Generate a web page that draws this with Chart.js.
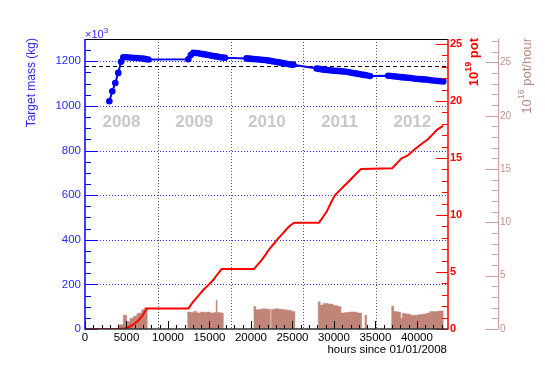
<!DOCTYPE html>
<html>
<head>
<meta charset="utf-8">
<script src="https://cdn.jsdelivr.net/npm/chart.js@4.4.1/dist/chart.umd.min.js"></script>
<style>
  html, body { margin: 0; padding: 0; background: #fff; }
</style>
</head>
<body>
<canvas id="chart" width="545" height="369"></canvas>
<script>
// ---------- data ----------
// target mass (x10^3 kg) vs hours since 01/01/2008
const massHours = [
  2930, 3290, 3650, 4010, 4340, 4620, 5000, 5400, 5800, 6200, 6600, 7000, 7300, 7630,
  12450, 12750, 13050, 13350, 13650, 13950, 14250, 14550, 14850, 15150, 15450, 15750, 16050, 16350, 16600, 16870,
  19480, 19780, 20080, 20380, 20680, 20980, 21280, 21580, 21880, 22180, 22480, 22780, 23080, 23380, 23680, 23980, 24280, 24580, 24850, 25100,
  27920, 28220, 28520, 28820, 29120, 29420, 29720, 30020, 30320, 30620, 30920, 31220, 31520, 31820, 32120, 32420, 32720, 33020, 33320, 33620, 33920, 34340,
  36550, 36850, 37150, 37450, 37750, 38050, 38350, 38650, 38950, 39250, 39550, 39850, 40150, 40450, 40750, 41050, 41350, 41650, 41950, 42250, 42550, 42850, 43180
];
const massValues = [
  1021, 1066, 1103, 1148, 1198, 1218, 1218, 1217, 1216, 1215, 1214, 1212, 1210, 1208,
  1209, 1228, 1238, 1237, 1236, 1234, 1232, 1230, 1228, 1226, 1224, 1222, 1220, 1218, 1217, 1216,
  1213, 1212, 1211, 1210, 1209, 1208, 1207, 1206, 1205, 1203, 1201, 1199, 1197, 1195, 1193, 1191, 1189, 1187, 1186, 1185,
  1168, 1166, 1164, 1162, 1161, 1160, 1159, 1158, 1157, 1156, 1155, 1154, 1153, 1151, 1149, 1147, 1145, 1143, 1141, 1139, 1137, 1134,
  1135, 1134, 1133, 1132, 1131, 1129, 1128, 1127, 1126, 1125, 1123, 1122, 1121, 1120, 1119, 1118, 1117, 1115, 1114, 1113, 1112, 1111, 1110
];

// accumulated protons on target (10^19 pot)
const potHours = [
  0, 4220, 4820, 5430, 6030, 6430, 6830, 7130, 7430,
  12450, 12750, 13050, 13650, 14250, 14860, 15460, 15960, 16470,
  20360, 20820, 21290, 21790, 22290, 22790, 23290, 23800, 24300, 24760, 25220,
  28200, 28660, 29130, 29630, 30130, 30630, 31130, 31730, 32330, 32800, 33260,
  37030, 37600, 38160, 38560, 38960, 39470, 39970, 40670, 41370, 41870, 42380, 42780, 43180
];
const potValues = [
  0, 0, 0.05, 0.22, 0.5, 0.75, 1.08, 1.4, 1.8,
  1.8, 2.1, 2.4, 2.9, 3.42, 3.85, 4.3, 4.8, 5.26,
  5.26, 5.65, 6.05, 6.55, 7.08, 7.5, 7.95, 8.35, 8.77, 9.1, 9.33,
  9.33, 9.8, 10.3, 11.05, 11.75, 12.1, 12.48, 12.9, 13.36, 13.7, 14.04,
  14.1, 14.55, 14.97, 15.1, 15.26, 15.6, 15.9, 16.3, 16.67, 17.05, 17.46, 17.65, 17.82
];

// beam rate (10^16 pot/hour), value holds from each hour to the next one
const rateHours = [
  0, 4010, 4620, 5020, 5420, 5820, 6230, 6430, 6830, 7150, 7500,
  12380, 12700, 13100, 13500, 13900, 14300, 14700, 15100, 15500, 15800, 15920, 16300, 16670,
  20360, 20600, 20900, 21400, 21900, 22330, 22450, 22900, 23400, 23900, 24400, 24900, 25300,
  28110, 28350, 28700, 29300, 29900, 30400, 30850, 31300, 31800, 32300, 32800, 33340, 33740, 33940,
  36960, 37200, 37600, 38050, 38250, 38700, 39200, 39700, 40200, 40700, 41200, 41600, 42100, 42600, 43180
];
const rateValues = [
  0, 0.4, 1.3, 0.7, 1.0, 1.2, 1.4, 1.5, 1.8, 2.0, 0,
  1.6, 1.55, 1.65, 1.5, 1.6, 1.55, 1.6, 1.5, 1.55, 2.7, 1.55, 1.5, 0,
  2.1, 1.8, 1.85, 1.9, 1.85, 0, 1.85, 1.9, 1.85, 1.8, 1.75, 1.65, 0,
  2.55, 2.25, 2.4, 2.35, 2.2, 2.1, 1.5, 1.55, 1.6, 1.6, 1.5, 0, 1.3, 0,
  2.15, 1.65, 1.6, 1.0, 1.45, 1.4, 1.3, 1.3, 1.35, 1.4, 1.5, 1.65, 1.65, 1.7, 0
];

const hourTicks = [0, 5000, 10000, 15000, 20000, 25000, 30000, 35000, 40000];
const yearNames = ['2008', '2009', '2010', '2011', '2012'];
const yearEdges = [0, 8784, 17544, 26304, 35064, 43848];
const nominalMass = 1178;
const yearLabelMass = 925;

// ---------- style ----------
const FONT = "'Liberation Sans', Arial, Helvetica, sans-serif";
const BLUE = '#0000ff';
const RED = '#ff0000';
const BROWN = '#c08478';
const BROWN_AXIS = '#c9a39b';

const toXY = (xs, ys) => xs.map((x, i) => ({ x: x, y: ys[i] }));
const plain = v => String(v);

function seg(ctx, x1, y1, x2, y2) {
    ctx.beginPath();
    ctx.moveTo(x1, y1);
    ctx.lineTo(x2, y2);
    ctx.stroke();
}

// text read bottom to top, ending at yTop
function rotatedText(ctx, x, yTop, parts) {
    ctx.save();
    ctx.translate(x, yTop);
    ctx.rotate(-Math.PI / 2);
    ctx.textBaseline = 'middle';
    ctx.textAlign = 'left';
    let total = 0;
    parts.forEach(p => { ctx.font = p.font; p.w = ctx.measureText(p.text).width; total += p.w; });
    let pos = -total;
    parts.forEach(p => { ctx.font = p.font; ctx.fillText(p.text, pos, p.dy || 0); pos += p.w; });
    ctx.restore();
}

/* -------------------- DECORATION (ROOT style frame) -------------------- */

const rootFrame = {
    id: 'rootFrame',
    beforeDatasetsDraw(chart) {
        const { ctx, chartArea: a } = chart;
        const sx = chart.scales.x, sy = chart.scales.y;
        ctx.save();
        ctx.lineWidth = 1;

        // blue dotted grid on the mass ticks
        ctx.strokeStyle = '#3535ff';
        ctx.setLineDash([1, 2]);
        sy.ticks.forEach(t => {
            if (t.value === 0) return;
            const y = Math.round(sy.getPixelForValue(t.value)) + 0.5;
            seg(ctx, a.left, y, a.right, y);
        });

        // year boundaries
        ctx.strokeStyle = '#555';
        yearEdges.slice(1, -1).forEach(h => {
            const x = Math.round(sx.getPixelForValue(h)) + 0.5;
            seg(ctx, x, a.top, x, a.bottom);
        });

        // nominal mass
        ctx.strokeStyle = '#000';
        ctx.setLineDash([4, 3]);
        const yn = Math.round(sy.getPixelForValue(nominalMass)) + 0.5;
        seg(ctx, a.left, yn, a.right, yn);
        ctx.setLineDash([]);

        // year names
        ctx.fillStyle = '#c8c8c8';
        ctx.font = 'bold 17px ' + FONT;
        ctx.textAlign = 'center';
        ctx.textBaseline = 'middle';
        yearNames.forEach((n, i) => {
            const mid = (yearEdges[i] + yearEdges[i + 1]) / 2;
            ctx.fillText(n, sx.getPixelForValue(mid), sy.getPixelForValue(yearLabelMass));
        });
        ctx.restore();
    },
    afterDatasetsDraw(chart) {
        const { ctx, chartArea: a } = chart;
        const sx = chart.scales.x, sy = chart.scales.y;
        const sp = chart.scales.yPot, sr = chart.scales.yRate;
        ctx.save();
        ctx.setLineDash([]);
        ctx.lineWidth = 1;

        // x ticks, pointing up
        ctx.strokeStyle = '#000';
        for (let h = 0; h <= sx.max; h += 1000) {
            const px = Math.round(sx.getPixelForValue(h)) + 0.5;
            seg(ctx, px, a.bottom, px, a.bottom - (h % 5000 === 0 ? 8 : 4));
        }
        // mass ticks
        ctx.strokeStyle = BLUE;
        for (let v = 0; v <= sy.max; v += 50) {
            const py = Math.round(sy.getPixelForValue(v)) + 0.5;
            seg(ctx, a.left, py, a.left + (v % 200 === 0 ? 13 : 6), py);
        }
        // pot ticks
        ctx.strokeStyle = RED;
        for (let v = 0; v <= sp.max; v += 1) {
            const py = Math.round(sp.getPixelForValue(v)) + 0.5;
            seg(ctx, a.right, py, a.right - (v % 5 === 0 ? 12 : 6), py);
        }
        // rate axis
        ctx.strokeStyle = BROWN_AXIS;
        const xr = Math.round(sr.left) + 0.5;
        seg(ctx, xr, a.top, xr, a.bottom);
        for (let v = 0; v <= sr.max; v += 1) {
            const py = Math.round(sr.getPixelForValue(v)) + 0.5;
            seg(ctx, xr, py, xr - (v % 5 === 0 ? 13 : 7), py);
        }

        // frame
        ctx.lineWidth = 1;
        ctx.strokeStyle = '#000';
        seg(ctx, a.left, a.top + 0.5, a.right, a.top + 0.5);
        ctx.lineWidth = 1.5;
        ctx.strokeStyle = '#333';
        seg(ctx, a.left, a.bottom, a.right, a.bottom);
        ctx.strokeStyle = BLUE;
        seg(ctx, a.left, a.top, a.left, a.bottom + 0.75);
        ctx.strokeStyle = RED;
        seg(ctx, a.right, a.top, a.right, a.bottom + 0.75);

        // x10^3
        ctx.fillStyle = '#2a2aff';
        ctx.textAlign = 'left';
        ctx.textBaseline = 'alphabetic';
        ctx.font = '11px ' + FONT;
        ctx.fillText('\u00d710', a.left, a.top - 1);
        const w = ctx.measureText('\u00d710').width;
        ctx.font = '8px ' + FONT;
        ctx.fillText('3', a.left + w, a.top - 6);

        // axis titles
        ctx.fillStyle = '#2a2aff';
        rotatedText(ctx, 31.5, 38, [{ text: 'Target mass (kg)', font: '12px ' + FONT }]);
        ctx.fillStyle = RED;
        rotatedText(ctx, 474, 38, [
            { text: '10', font: 'bold 13px ' + FONT },
            { text: '19', font: 'bold 9px ' + FONT, dy: -5 },
            { text: ' pot', font: 'bold 13px ' + FONT }
        ]);
        ctx.fillStyle = '#b98a80';
        rotatedText(ctx, 527, 38, [
            { text: '10', font: '13px ' + FONT },
            { text: '16', font: '9px ' + FONT, dy: -5 },
            { text: ' pot/hour', font: '13px ' + FONT }
        ]);

        ctx.fillStyle = '#000';
        ctx.textAlign = 'right';
        ctx.font = '11.5px ' + FONT;
        ctx.fillText('hours since 01/01/2008', a.right - 1, 353);
        ctx.restore();
    }
};

/* -------------------- CHART -------------------- */

new Chart(document.getElementById('chart'), {
    type: 'line',
    data: {
        datasets: [{
            data: toXY(massHours, massValues),
            yAxisID: 'y',
            borderColor: BLUE,
            borderWidth: 2,
            pointRadius: 3.3,
            pointBorderWidth: 0,
            pointBackgroundColor: BLUE,
            tension: 0
        }, {
            data: toXY(potHours, potValues),
            yAxisID: 'yPot',
            borderColor: RED,
            borderWidth: 2,
            pointRadius: 0,
            tension: 0
        }, {
            data: toXY(rateHours, rateValues),
            yAxisID: 'yRate',
            stepped: 'before',
            fill: 'origin',
            backgroundColor: BROWN,
            borderColor: BROWN,
            borderWidth: 0.5,
            pointRadius: 0
        }]
    },
    options: {
        responsive: false,
        animation: false,
        layout: { padding: { top: 39, left: 0, right: 0, bottom: 0 } },
        plugins: { legend: { display: false }, tooltip: { enabled: false } },
        scales: {
            x: {
                type: 'linear',
                min: 0,
                max: 43750,
                afterFit: s => { s.height = 40; },
                afterBuildTicks: s => { s.ticks = hourTicks.map(v => ({ value: v })); },
                ticks: { color: '#000', padding: 2, maxRotation: 0, autoSkip: false, callback: plain, font: { size: 11.5, family: FONT } },
                grid: { display: false, drawTicks: false },
                border: { display: false }
            },
            y: {
                position: 'left',
                min: 0,
                max: 1300,
                afterFit: s => { s.width = 85; },
                ticks: { stepSize: 200, includeBounds: false, color: '#2a2aff', padding: 4, callback: plain, font: { size: 11.5, family: FONT } },
                grid: { display: false, drawTicks: false },
                border: { display: false }
            },
            yPot: {
                position: 'right',
                min: 0,
                max: 25.44,
                afterFit: s => { s.width = 50; },
                ticks: { stepSize: 5, includeBounds: false, color: RED, padding: 2, callback: plain, font: { size: 11, weight: 'bold', family: FONT } },
                grid: { display: false, drawTicks: false },
                border: { display: false }
            },
            yRate: {
                position: 'right',
                min: 0,
                max: 27.2,
                afterFit: s => { s.width = 47; },
                ticks: { stepSize: 5, includeBounds: false, color: '#c0958c', padding: 2, callback: plain, font: { size: 10, family: FONT } },
                grid: { display: false, drawTicks: false },
                border: { display: false }
            }
        }
    },
    plugins: [rootFrame]
});
</script>
</body>
</html>
